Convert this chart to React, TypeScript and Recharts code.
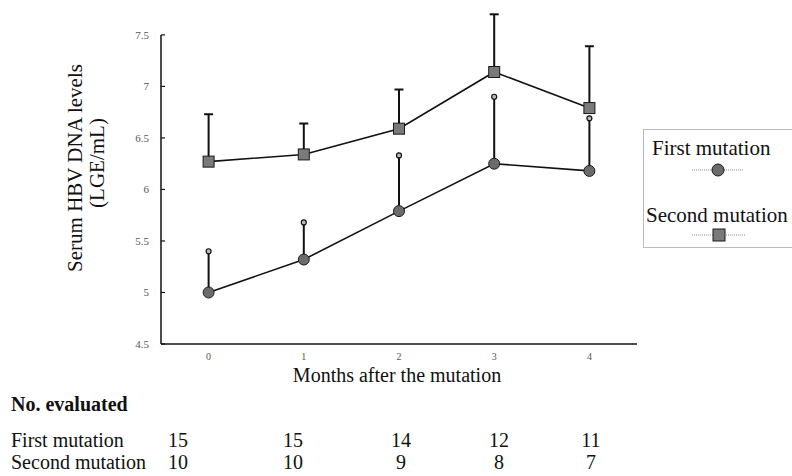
import { LineChart, Line, XAxis, YAxis, ErrorBar, Legend, ReferenceLine, Label } from 'recharts'

const SERIF = "'Liberation Serif', 'Times New Roman', serif"

// months after the mutation
const months = [0, 1, 2, 3, 4]
const yTicks = [4.5, 5, 5.5, 6, 6.5, 7, 7.5]
const boundTicks = [0.5, 1.5, 2.5, 3.5, 4.5]

// mean and upward SD
const firstMean = [5.0, 5.32, 5.79, 6.25, 6.18]
const firstSd = [0.4, 0.36, 0.54, 0.65, 0.51]
const secondMean = [6.27, 6.34, 6.59, 7.14, 6.79]
const secondSd = [0.46, 0.3, 0.38, 0.56, 0.6]

// No. evaluated table
const firstCount = [15, 15, 14, 12, 11]
const secondCount = [10, 10, 9, 8, 7]
const tableCols = [178, 293, 401, 499, 591]

const data = months.map((m, i) => ({
  month: m,
  first: firstMean[i],
  firstErr: [0, firstSd[i]],
  firstTop: firstMean[i] + firstSd[i],
  second: secondMean[i],
  secondErr: [0, secondSd[i]],
}))

function SquareDot(p: any) {
  if (p.cx == null || p.cy == null) return <g key={`sq-${p.index}`} />
  return (
    <rect
      key={`sq-${p.index}`}
      x={p.cx - 5.5}
      y={p.cy - 5.5}
      width={11}
      height={11}
      fill="#7a7a7a"
      stroke="#1a1a1a"
      strokeWidth={1}
    />
  )
}

function LegendBox() {
  return (
    <svg width={152} height={120} style={{ display: 'block' }}>
      <rect x={0.5} y={0.5} width={160} height={118} fill="#fff" stroke="#777" strokeDasharray="1 1" />
      <g fontFamily={SERIF} fontSize={21} fill="#111">
        <text x={9} y={26}>First mutation</text>
        <text x={3} y={93}>Second mutation</text>
      </g>
      <line x1={49} x2={100} y1={41} y2={41} stroke="#888" strokeDasharray="1 1" />
      <circle cx={75} cy={41} r={6} fill="#6b6b6b" stroke="#1a1a1a" />
      <line x1={49} x2={102} y1={106} y2={106} stroke="#888" strokeDasharray="1 1" />
      <rect x={70} y={100} width={12} height={12} fill="#7a7a7a" stroke="#1a1a1a" />
    </svg>
  )
}

export default function App() {
  return (
    <div style={{ position: 'absolute', left: 0, top: 0, width: 792, height: 476, background: '#fff' }}>
      <LineChart width={792} height={476} data={data} margin={{ top: 4, right: 155, bottom: 102, left: 111 }}>
        <XAxis
          dataKey="month"
          type="number"
          domain={[-0.5, 4.5]}
          ticks={months}
          tickLine={false}
          tickSize={0}
          tickMargin={9}
          tick={{ fontSize: 10, fill: '#555', fontFamily: SERIF }}
          axisLine={{ stroke: '#111', strokeWidth: 1.5 }}
          height={30}
        >
          <Label
            content={() => (
              <text x={397} y={382} textAnchor="middle" fontFamily={SERIF} fontSize={20} fill="#111">
                Months after the mutation
              </text>
            )}
          />
        </XAxis>
        <XAxis
          xAxisId="b"
          type="number"
          domain={[-0.5, 4.5]}
          ticks={boundTicks}
          mirror
          tick={false}
          axisLine={false}
          tickLine={{ stroke: '#111', strokeWidth: 1.2 }}
          tickSize={4}
          height={1}
        />
        <YAxis
          type="number"
          domain={[4.5, 7.8]}
          ticks={yTicks}
          allowDataOverflow
          axisLine={false}
          tickLine={{ stroke: '#111', strokeWidth: 1.2 }}
          tickSize={-4}
          tickMargin={16}
          tick={{ fontSize: 11, fill: '#555', fontFamily: SERIF }}
          width={50}
        >
          <Label
            content={() => (
              <g fontFamily={SERIF} fontSize={21} fill="#111">
                <text transform="translate(82,168) rotate(-90)" textAnchor="middle">
                  Serum HBV DNA levels
                </text>
                <text transform="translate(104,163) rotate(-90)" textAnchor="middle">
                  (LGE/mL)
                </text>
              </g>
            )}
          />
        </YAxis>

        {/* y axis line stops at 7.5 while the domain runs higher for the tall error bar */}
        <ReferenceLine
          segment={[
            { x: -0.5, y: 4.5 },
            { x: -0.5, y: 7.5 },
          ]}
          stroke="#111"
          strokeWidth={1.5}
          ifOverflow="visible"
        />

        <Legend
          layout="vertical"
          align="center"
          verticalAlign="middle"
          wrapperStyle={{ left: 643, top: 129, width: 152, height: 120 }}
          content={<LegendBox />}
        />

        <Line
          type="linear"
          dataKey="second"
          name="Second mutation"
          stroke="#111"
          strokeWidth={1.6}
          dot={SquareDot}
          activeDot={false}
          isAnimationActive={false}
        >
          <ErrorBar dataKey="secondErr" direction="y" width={4.5} stroke="#111" strokeWidth={2} />
        </Line>
        <Line
          type="linear"
          dataKey="first"
          name="First mutation"
          stroke="#111"
          strokeWidth={1.6}
          dot={{ r: 5.5, fill: '#6b6b6b', stroke: '#1a1a1a', strokeWidth: 1 }}
          activeDot={false}
          isAnimationActive={false}
        >
          <ErrorBar dataKey="firstErr" direction="y" width={0} stroke="#111" strokeWidth={2} />
        </Line>
        {/* round caps on top of the first mutation SD bars */}
        <Line
          type="linear"
          dataKey="firstTop"
          stroke="none"
          legendType="none"
          dot={{ r: 2.5, fill: '#bbb', stroke: '#111', strokeWidth: 1.2 }}
          activeDot={false}
          isAnimationActive={false}
        />
      </LineChart>

      <svg
        width={792}
        height={476}
        style={{ position: 'absolute', left: 0, top: 0, pointerEvents: 'none' }}
      >
        <g fontFamily={SERIF} fontSize={20} fill="#111">
          <text x={11} y={411} fontWeight="bold">No. evaluated</text>
          <text x={11} y={447}>First mutation</text>
          <text x={11} y={469}>Second mutation</text>
          {firstCount.map((n, i) => (
            <text key={`f${i}`} x={tableCols[i]} y={447} textAnchor="middle">{n}</text>
          ))}
          {secondCount.map((n, i) => (
            <text key={`s${i}`} x={tableCols[i]} y={469} textAnchor="middle">{n}</text>
          ))}
        </g>
      </svg>
    </div>
  )
}
